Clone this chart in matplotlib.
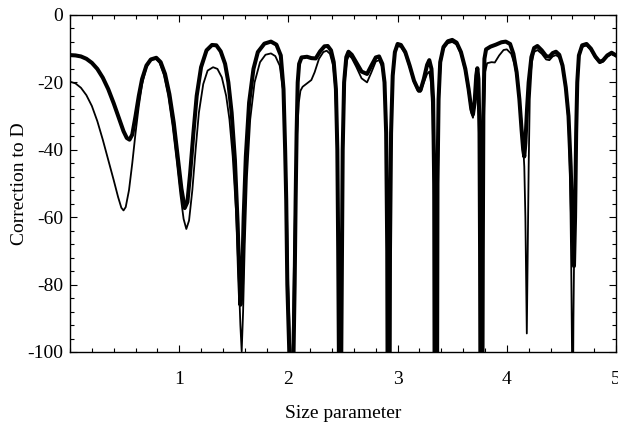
import numpy as np
import matplotlib
matplotlib.use('Agg')
import matplotlib.pyplot as plt
from matplotlib.ticker import MultipleLocator

plt.rcParams['font.family'] = ['Liberation Serif', 'DejaVu Serif']
plt.rcParams['axes.unicode_minus'] = False

# (size parameter, correction); values below -100 are clipped
thick_pts = [
    (0.00, -11.9), (0.05, -12.0), (0.10, -12.3), (0.15, -13.0), (0.20, -14.2),
    (0.25, -16.0), (0.30, -18.6), (0.35, -22.0), (0.40, -26.2), (0.45, -30.8),
    (0.49, -34.5), (0.52, -36.5), (0.545, -37.0), (0.57, -35.5), (0.60, -30.0),
    (0.63, -24.0), (0.66, -19.0), (0.70, -15.0), (0.74, -13.2), (0.79, -12.7),
    (0.83, -14.0), (0.87, -17.5), (0.91, -23.5), (0.95, -32.0), (0.99, -43.0),
    (1.02, -51.5), (1.05, -57.3), (1.075, -55.5), (1.10, -47.0), (1.13, -35.0),
    (1.16, -24.0), (1.20, -15.5), (1.25, -10.5), (1.30, -8.9), (1.34, -9.0),
    (1.38, -10.8), (1.42, -14.5), (1.45, -20.0), (1.48, -29.0), (1.51, -43.0),
    (1.535, -62.0), (1.55, -78.0), (1.56, -86.0), (1.575, -80.0), (1.59, -60.0),
    (1.61, -42.0), (1.64, -26.0), (1.68, -16.0), (1.72, -11.0), (1.78, -8.5),
    (1.84, -7.9), (1.89, -8.8), (1.93, -12.0), (1.955, -22.0), (1.97, -40.0),
    (1.98, -55.0), (1.99, -80.0), (2.008, -100), (2.012, -130), (2.043, -130),
    (2.047, -100), (2.057, -80), (2.066, -55), (2.075, -35), (2.085, -20),
    (2.098, -14.5), (2.12, -12.6), (2.17, -12.4), (2.21, -12.8),
    (2.25, -12.9), (2.29, -10.8), (2.33, -9.3), (2.36, -9.2), (2.39, -10.5),
    (2.415, -14.0), (2.435, -22.0), (2.448, -40.0), (2.456, -70), (2.462, -100),
    (2.466, -130), (2.48, -130), (2.484, -100), (2.49, -70), (2.497, -40),
    (2.51, -20), (2.53, -12.5),
    (2.55, -10.9), (2.58, -11.8), (2.62, -14.0), (2.67, -16.8), (2.72, -17.5),
    (2.76, -15.0), (2.80, -12.6), (2.83, -12.3), (2.86, -14.5), (2.88, -20.0),
    (2.895, -35.0), (2.905, -70), (2.91, -130), (2.925, -130), (2.93, -70),
    (2.94, -35), (2.955, -18), (2.975, -11), (3.00, -8.6), (3.03, -8.9),
    (3.07, -11.0), (3.11, -15.0), (3.15, -19.5), (3.19, -22.3), (3.21, -22.3),
    (3.24, -19.0), (3.27, -14.8), (3.29, -13.4), (3.31, -16.0), (3.325, -25.0),
    (3.335, -50), (3.34, -130), (3.36, -130), (3.365, -50), (3.375, -25),
    (3.39, -14), (3.42, -9.5), (3.46, -7.8), (3.50, -7.4), (3.54, -8.2),
    (3.58, -11.0), (3.62, -16.0), (3.65, -22.0), (3.675, -28.0), (3.69, -29.5),
    (3.705, -26.0), (3.72, -18.0), (3.73, -15.8), (3.74, -19.0), (3.75, -35.0),
    (3.755, -70), (3.76, -130), (3.775, -130), (3.78, -70), (3.785, -30),
    (3.795, -13), (3.81, -10.2), (3.85, -9.4), (3.90, -8.8), (3.95, -8.1),
    (3.99, -7.9), (4.03, -8.6), (4.06, -11.5), (4.09, -17.0), (4.115, -25.0),
    (4.135, -34.0), (4.15, -40.0), (4.16, -42.0), (4.17, -38.0), (4.185, -28.0),
    (4.20, -20.0), (4.225, -12.5), (4.25, -9.8), (4.28, -9.2), (4.32, -10.5),
    (4.36, -12.2), (4.39, -12.4), (4.42, -11.3), (4.45, -10.9), (4.48, -11.8),
    (4.51, -15.0), (4.54, -21.5), (4.565, -30.0), (4.585, -45.0), (4.60, -62.0),
    (4.615, -74.5), (4.625, -60.0), (4.635, -35.0), (4.645, -20.0), (4.66, -12.0),
    (4.69, -9.0), (4.73, -8.6), (4.77, -10.0), (4.81, -12.3), (4.85, -13.9),
    (4.88, -13.5), (4.92, -12.0), (4.96, -11.2), (5.00, -12.0),
]

thin_pts = [
    (0.00, -19.8), (0.05, -20.3), (0.10, -21.6), (0.15, -23.8), (0.20, -27.0),
    (0.25, -31.5), (0.30, -37.0), (0.35, -43.0), (0.40, -49.0), (0.44, -54.0),
    (0.47, -57.2), (0.49, -58.0), (0.51, -57.0), (0.54, -52.0), (0.57, -44.0),
    (0.60, -35.0), (0.63, -27.0), (0.66, -20.5), (0.70, -15.5), (0.74, -13.3),
    (0.78, -12.8), (0.82, -14.2), (0.86, -17.8), (0.90, -24.0), (0.94, -33.0),
    (0.98, -44.0), (1.01, -53.0), (1.04, -60.5), (1.065, -63.5), (1.09, -61.0),
    (1.12, -52.0), (1.15, -40.0), (1.18, -29.0), (1.22, -20.5), (1.26, -16.5),
    (1.31, -15.5), (1.35, -16.0), (1.39, -18.5), (1.43, -24.0), (1.46, -31.0),
    (1.49, -42.0), (1.52, -58.0), (1.545, -78.0), (1.56, -92.0), (1.572, -99.8),
    (1.585, -88.0), (1.60, -68.0), (1.62, -48.0), (1.65, -31.0), (1.69, -20.0),
    (1.74, -14.0), (1.79, -11.8), (1.84, -11.4), (1.88, -12.2), (1.92, -15.0),
    (1.95, -22.0), (1.97, -38.0), (1.985, -55.0), (1.998, -80.0), (2.018, -100),
    (2.022, -130), (2.033, -130), (2.037, -100), (2.05, -75), (2.065, -50),
    (2.08, -35), (2.095, -26), (2.11, -22.5), (2.13, -21.3),
    (2.17, -20.3), (2.21, -19.3), (2.24, -17.0), (2.28, -13.0), (2.32, -11.0),
    (2.35, -10.6), (2.38, -11.5), (2.41, -15.0), (2.43, -22.0), (2.445, -40),
    (2.455, -70), (2.463, -100), (2.467, -130), (2.479, -130), (2.483, -100),
    (2.49, -70), (2.50, -40),
    (2.515, -20), (2.535, -13.5), (2.555, -12.0), (2.58, -12.8), (2.62, -15.3),
    (2.67, -18.8), (2.72, -20.0), (2.76, -17.0), (2.80, -13.8), (2.83, -13.4),
    (2.86, -15.5), (2.88, -21.0), (2.895, -36), (2.905, -70), (2.91, -130),
    (2.925, -130), (2.93, -70), (2.94, -36), (2.955, -19), (2.975, -11.5),
    (3.00, -9.2), (3.03, -9.5), (3.07, -11.5), (3.11, -15.5), (3.15, -20.0),
    (3.19, -22.8), (3.21, -22.8), (3.24, -20.0), (3.27, -17.5), (3.29, -16.8),
    (3.305, -20.0), (3.32, -30.0), (3.333, -55), (3.34, -130), (3.36, -130),
    (3.367, -55), (3.378, -25), (3.395, -14), (3.42, -10.0), (3.46, -8.4),
    (3.50, -8.0), (3.54, -8.8), (3.58, -11.5), (3.62, -16.8), (3.65, -23.0),
    (3.675, -29.0), (3.69, -30.5), (3.705, -27.0), (3.72, -19.0), (3.73, -16.5),
    (3.74, -20.0), (3.75, -36.0), (3.755, -70), (3.76, -130), (3.775, -130),
    (3.78, -70), (3.79, -30), (3.80, -17), (3.82, -14.3), (3.86, -14.0),
    (3.89, -14.1), (3.93, -12.0), (3.97, -10.4), (4.00, -10.2), (4.04, -11.5),
    (4.07, -14.5), (4.10, -20.0), (4.125, -28.0), (4.145, -36.0), (4.16, -45.0),
    (4.17, -60.0), (4.178, -80.0), (4.183, -94.5), (4.19, -75.0), (4.20, -45.0),
    (4.21, -25.0), (4.23, -14.0), (4.25, -11.0), (4.28, -10.4), (4.32, -11.5),
    (4.36, -13.2), (4.39, -13.4), (4.42, -12.3), (4.45, -11.9), (4.48, -12.6),
    (4.51, -15.5), (4.54, -22.0), (4.565, -32.0), (4.58, -50.0), (4.59, -75.0),
    (4.597, -100), (4.603, -130), (4.61, -90), (4.62, -60), (4.635, -35),
    (4.645, -20), (4.66, -12.5), (4.69, -9.5), (4.73, -9.0), (4.77, -10.4),
    (4.81, -12.7), (4.85, -14.3), (4.88, -13.9), (4.92, -12.4), (4.96, -11.6),
    (5.00, -12.3),
]

x_major = [1, 2, 3, 4, 5]
y_major = [0, -20, -40, -60, -80, -100]

thick = np.array(thick_pts)
thin = np.array(thin_pts)

fig = plt.figure(figsize=(6.18, 4.28), dpi=100)
ax = fig.add_axes([0.1133, 0.1776, 0.8835, 0.7874])

ax.plot(thin[:, 0], thin[:, 1], color='black', lw=1.3, solid_joinstyle='round')
ax.plot(thick[:, 0], thick[:, 1], color='black', lw=2.9, solid_joinstyle='round')

ax.set_xlim(0, 5)
ax.set_ylim(-100, 0)
ax.set_xticks(x_major)
ax.set_yticks(y_major)
ax.xaxis.set_minor_locator(MultipleLocator(0.2))
ax.yaxis.set_minor_locator(MultipleLocator(4))
ax.tick_params(which='both', direction='in', top=True, right=True, width=0.8)
ax.tick_params(which='major', length=5)
ax.tick_params(which='minor', length=3)
ax.tick_params(axis='x', which='major', pad=14, labelsize=14)
ax.tick_params(axis='y', which='major', pad=5, labelsize=14)
for s in ax.spines.values():
    s.set_linewidth(1.0)

ax.set_xlabel('Size parameter', fontsize=14, labelpad=12)
ax.set_ylabel('Correction to D', fontsize=14, labelpad=-1)

fig.savefig('out.png', dpi=100)
